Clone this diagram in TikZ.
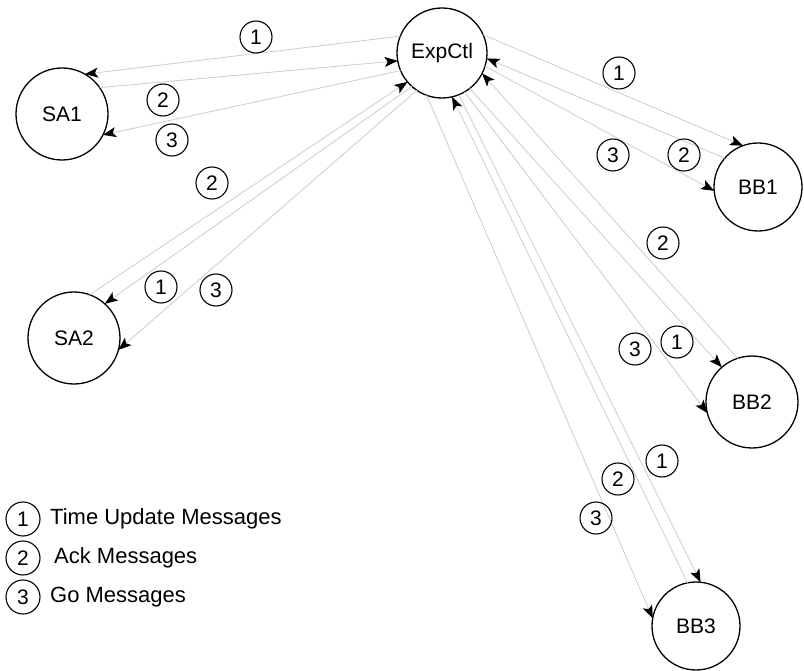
\documentclass[tikz,border=0pt]{standalone}
\usepackage{fontspec}
\setmainfont{Liberation Sans}
\usetikzlibrary{arrows.meta}
\definecolor{msggray}{RGB}{205,205,205}
\begin{document}
\begin{tikzpicture}[x=1pt,y=-1pt,
  proc/.style={circle,draw=black,line width=1.3pt,minimum size=#1,inner sep=0pt,outer sep=0pt,font=\fontsize{21}{25}\selectfont},
  proc/.default=90pt,
  num/.style={circle,draw=black,line width=1.1pt,minimum size=32pt,inner sep=0pt,font=\fontsize{21}{25}\selectfont},
  msg/.style={draw=msggray,line width=0.8pt,-{Stealth[length=13pt,width=10pt,inset=3pt,color=black]}},
  lgd/.style={anchor=west,font=\fontsize{22}{26}\selectfont,inner sep=0pt}]
\fill[white] (0,0) rectangle (804,671);
\useasboundingbox (0,0) rectangle (804,671);

% process nodes
\node[proc=90pt] (E) at (442,53) {ExpCtl};
\node[proc=92pt] (SA1) at (62,114) {SA1};
\node[proc=92pt] (SA2) at (74,338) {SA2};
\node[proc=88pt] (BB1) at (758,187) {BB1};
\node[proc=92pt] (BB2) at (752,402) {BB2};
\node[proc=88pt] (BB3) at (696,626) {BB3};

% SA1
\draw[msg] (E.158) -- (SA1.60);
\draw[msg] (SA1.35) -- (E.190);
\draw[msg] (E.203) -- (SA1.-27);
% SA2
\draw[msg] (SA2.70) -- (E.220);
\draw[msg] (E.228) -- (SA2.48);
\draw[msg] (E.236) -- (SA2.-15);
% BB1
\draw[msg] (E.24) -- (BB1.110);
\draw[msg] (BB1.139) -- (E.-7);
\draw[msg] (E.-17) -- (BB1.185);
% BB2
\draw[msg] (BB2.108) -- (E.-27);
\draw[msg] (E.-52) -- (BB2.131);
\draw[msg] (E.-60) -- (BB2.194);
% BB3
\draw[msg] (E.-68) -- (BB3.84);
\draw[msg] (BB3.101) -- (E.-77);
\draw[msg] (E.250) -- (BB3.170);

% message labels
\node[num] (a1) at (256,37) {1};
\node[num] (a2) at (163,100) {2};
\node[num] (a3) at (172,140) {3};
\node[num] (b2) at (212,183) {2};
\node[num] (b1) at (161,287) {1};
\node[num] (b3) at (216,290) {3};
\node[num] (c1) at (619,73) {1};
\node[num] (c3) at (613,155) {3};
\node[num] (c2) at (684,155) {2};
\node[num] (d2) at (663,243) {2};
\node[num] (d3) at (635,349) {3};
\node[num] (d1) at (677,342) {1};
\node[num] (e1) at (662,461) {1};
\node[num] (e2) at (618,479) {2};
\node[num] (e3) at (596,518) {3};

% legend
\node[num,minimum size=34pt] (k1) at (23,519) {1};
\node[lgd] (t1) at (50,519) {Time Update Messages};
\node[num,minimum size=34pt] (k2) at (23,558) {2};
\node[lgd] (t2) at (54,558) {Ack Messages};
\node[num,minimum size=34pt] (k3) at (23,597) {3};
\node[lgd] (t3) at (50,597) {Go Messages};
\end{tikzpicture}
\end{document}
